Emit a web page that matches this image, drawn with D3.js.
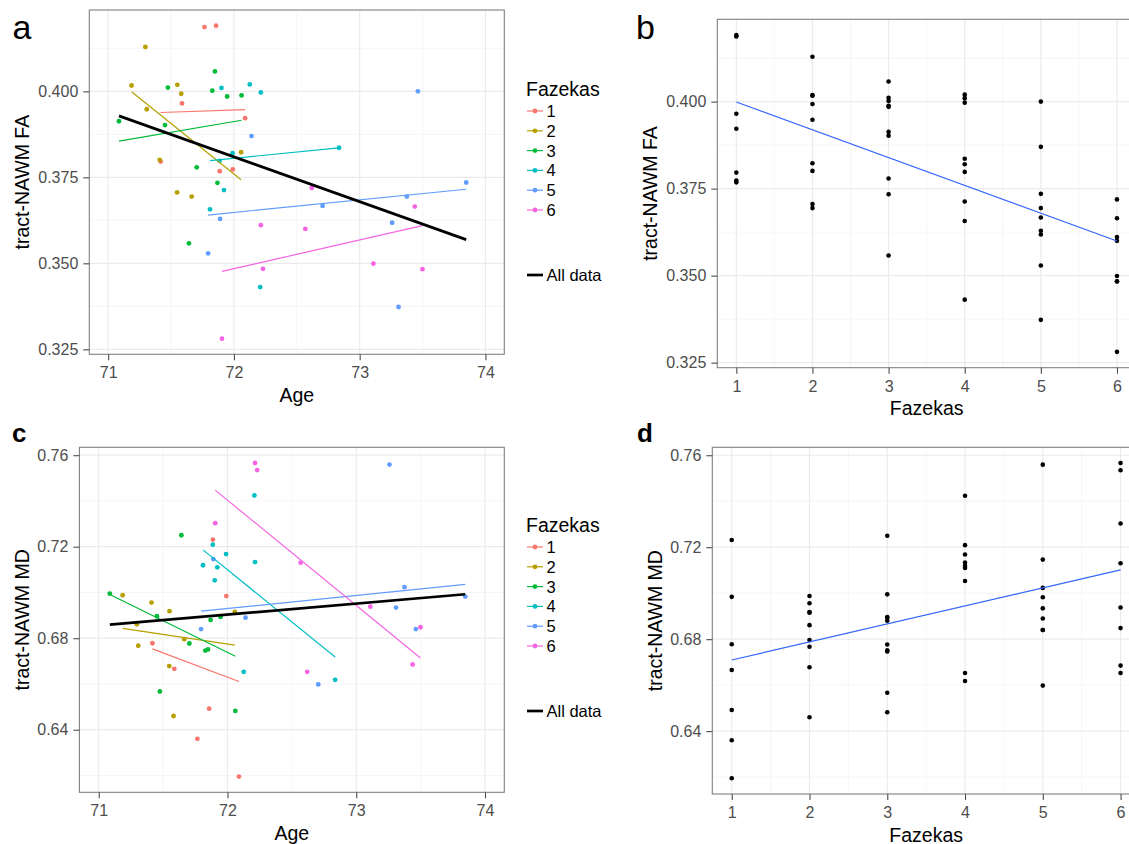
<!DOCTYPE html>
<html>
<head>
<meta charset="utf-8">
<script src="https://d3js.org/d3.v7.min.js"></script>
<style>
	body { margin: 0; background: #fff; }
	svg { display: block; font-family: 'Liberation Sans', Arial, Helvetica, sans-serif; }
</style>
</head>
<body>
<script>
var fazekasLevels = [1, 2, 3, 4, 5, 6];
var fazekasColors = ['#F8766D', '#B79F00', '#00BA38', '#00BFC4', '#619CFF', '#F564E3'];

// one entry per subject, same order in every array
var fazekas = [
	1, 1, 1, 1, 1, 1, 1,
	2, 2, 2, 2, 2, 2, 2, 2, 2,
	3, 3, 3, 3, 3, 3, 3, 3, 3, 3,
	4, 4, 4, 4, 4, 4, 4, 4, 4,
	5, 5, 5, 5, 5, 5, 5, 5, 5,
	6, 6, 6, 6, 6, 6, 6, 6
];
var age = [
	71.766, 71.858, 71.587, 72.089, 71.417, 71.887, 71.991,
	71.186, 71.296, 71.307, 71.410, 71.550, 71.581, 71.548, 71.664, 72.057,
	71.086, 71.452, 71.475, 71.642, 71.704, 71.828, 71.849, 71.869, 71.946, 72.061,
	71.810, 71.886, 71.901, 71.921, 71.989, 72.126, 72.209, 72.214, 72.836,
	71.795, 71.890, 72.140, 72.705, 73.258, 73.309, 73.375, 73.463, 73.847,
	71.905, 72.214, 72.231, 72.568, 72.619, 73.109, 73.438, 73.499
];
var fa = [
	0.4187, 0.4191, 0.3965, 0.3922, 0.3796, 0.3768, 0.3773,
	0.4017, 0.4129, 0.3948, 0.3801, 0.4019, 0.3993, 0.3706, 0.3694, 0.3823,
	0.3913, 0.3902, 0.4011, 0.3558, 0.3779, 0.4002, 0.4058, 0.3734, 0.3985, 0.3988,
	0.3657, 0.3798, 0.4010, 0.3713, 0.3820, 0.4020, 0.3431, 0.3997, 0.3836,
	0.3529, 0.3629, 0.3870, 0.3667, 0.3618, 0.3373, 0.3694, 0.4000, 0.3735,
	0.3281, 0.3611, 0.3484, 0.3600, 0.3719, 0.3499, 0.3665, 0.3483
];
var md = [
	0.6360, 0.6492, 0.6666, 0.6195, 0.6778, 0.7231, 0.6984,
	0.6988, 0.6861, 0.6767, 0.6956, 0.6918, 0.6460, 0.6678, 0.6796, 0.6915,
	0.6995, 0.6896, 0.6567, 0.7250, 0.6777, 0.6746, 0.6751, 0.6880, 0.6893, 0.6482,
	0.7119, 0.7209, 0.7053, 0.7110, 0.7168, 0.6653, 0.7424, 0.7133, 0.6618,
	0.6840, 0.7146, 0.6890, 0.6598, 0.7559, 0.6934, 0.7023, 0.6840, 0.6982,
	0.7303, 0.7566, 0.7535, 0.7130, 0.6653, 0.6938, 0.6685, 0.6848
];

var ageTicks = [71, 72, 73, 74];
var faTicks = [0.325, 0.350, 0.375, 0.400];
var mdTicks = [0.64, 0.68, 0.72, 0.76];

var subjects = age.map(function(d, i) {
	return { age: d, fazekas: fazekas[i], fa: fa[i], md: md[i] };
});

var width = 1129, height = 844;

var svg = d3.select('body')
	.append('svg')
	.attr('width', width)
	.attr('height', height);

svg.append('rect')
	.attr('width', width)
	.attr('height', height)
	.attr('fill', '#fff');

var color = d3.scaleOrdinal().domain(fazekasLevels).range(fazekasColors);

function expand(ext) {
	var r = ext[1] - ext[0];
	return [ext[0] - r * 0.05, ext[1] + r * 0.05];
}

function minorTicks(ticks, domain) {
	var step = ticks[1] - ticks[0];
	var out = [];
	for (var i = -1; i < ticks.length; i++) {
		var v = ticks[0] + step * (i + 0.5);
		if (v > domain[0] && v < domain[1]) out.push(v);
	}
	return out;
}

function fit(pts, xk, yk) {
	var mx = d3.mean(pts, function(d) { return d[xk]; });
	var my = d3.mean(pts, function(d) { return d[yk]; });
	var sxy = d3.sum(pts, function(d) { return (d[xk] - mx) * (d[yk] - my); });
	var sxx = d3.sum(pts, function(d) { return (d[xk] - mx) * (d[xk] - mx); });
	var slope = sxy / sxx;
	var ext = d3.extent(pts, function(d) { return d[xk]; });
	return ext.map(function(v) { return [v, my + slope * (v - mx)]; });
}

function drawPanel(p) {
	var x = d3.scaleLinear().domain(p.xDomain).range([p.left, p.right]);
	var y = d3.scaleLinear().domain(p.yDomain).range([p.bottom, p.top]);
	var g = svg.append('g');

	// grid
	g.selectAll('.vminor')
		.data(minorTicks(p.xTicks, p.xDomain))
		.enter()
		.append('line')
		.attr('x1', function(d) { return x(d); })
		.attr('x2', function(d) { return x(d); })
		.attr('y1', p.top)
		.attr('y2', p.bottom)
		.attr('stroke', '#f2f2f2')
		.attr('stroke-width', 0.7);
	g.selectAll('.hminor')
		.data(minorTicks(p.yTicks, p.yDomain))
		.enter()
		.append('line')
		.attr('x1', p.left)
		.attr('x2', p.right)
		.attr('y1', function(d) { return y(d); })
		.attr('y2', function(d) { return y(d); })
		.attr('stroke', '#f2f2f2')
		.attr('stroke-width', 0.7);
	g.selectAll('.vmajor')
		.data(p.xTicks)
		.enter()
		.append('line')
		.attr('x1', function(d) { return x(d); })
		.attr('x2', function(d) { return x(d); })
		.attr('y1', p.top)
		.attr('y2', p.bottom)
		.attr('stroke', '#ebebeb')
		.attr('stroke-width', 1.2);
	g.selectAll('.hmajor')
		.data(p.yTicks)
		.enter()
		.append('line')
		.attr('x1', p.left)
		.attr('x2', p.right)
		.attr('y1', function(d) { return y(d); })
		.attr('y2', function(d) { return y(d); })
		.attr('stroke', '#ebebeb')
		.attr('stroke-width', 1.2);

	// points
	g.selectAll('circle')
		.data(subjects)
		.enter()
		.append('circle')
		.attr('cx', function(d) { return x(d[p.xKey]); })
		.attr('cy', function(d) { return y(d[p.yKey]); })
		.attr('r', p.grouped ? 2.4 : 2.3)
		.attr('fill', function(d) { return p.grouped ? color(d.fazekas) : '#000'; });

	var line = d3.line()
		.x(function(d) { return x(d[0]); })
		.y(function(d) { return y(d[1]); });

	if (p.grouped) {
		fazekasLevels.forEach(function(f) {
			var pts = subjects.filter(function(d) { return d.fazekas === f; });
			g.append('path')
				.attr('d', line(fit(pts, p.xKey, p.yKey)))
				.attr('fill', 'none')
				.attr('stroke', color(f))
				.attr('stroke-width', 1.2);
		});
		g.append('path')
			.attr('d', line(fit(subjects, p.xKey, p.yKey)))
			.attr('fill', 'none')
			.attr('stroke', '#000')
			.attr('stroke-width', 2.7);
	} else {
		g.append('path')
			.attr('d', line(fit(subjects, p.xKey, p.yKey)))
			.attr('fill', 'none')
			.attr('stroke', '#3366FF')
			.attr('stroke-width', 1.2);
	}

	g.append('rect')
		.attr('x', p.left)
		.attr('y', p.top)
		.attr('width', p.right - p.left)
		.attr('height', p.bottom - p.top)
		.attr('fill', 'none')
		.attr('stroke', '#808080')
		.attr('stroke-width', 1.1);

	// axes
	var xAxis = g.append('g')
		.attr('transform', 'translate(0,' + p.bottom + ')')
		.call(d3.axisBottom(x).tickValues(p.xTicks).tickFormat(p.xFormat).tickSize(6).tickPadding(6.5));
	var yAxis = g.append('g')
		.attr('transform', 'translate(' + p.left + ',0)')
		.call(d3.axisLeft(y).tickValues(p.yTicks).tickFormat(p.yFormat).tickSize(6).tickPadding(5));
	[xAxis, yAxis].forEach(function(a) {
		a.select('.domain').remove();
		a.selectAll('line').attr('stroke', '#4d4d4d').attr('stroke-width', 1.1);
		a.selectAll('text')
			.attr('fill', '#4d4d4d')
			.style('font-size', '16px')
			.style('font-family', "'Liberation Sans', Arial, sans-serif");
	});

	g.append('text')
		.attr('x', (p.left + p.right) / 2)
		.attr('y', p.bottom + 47.5)
		.attr('text-anchor', 'middle')
		.style('font-size', '19.5px')
		.text(p.xTitle);
	g.append('text')
		.attr('transform', 'translate(' + p.yTitleX + ',' + (p.top + p.bottom) / 2 + ') rotate(-90)')
		.attr('text-anchor', 'middle')
		.style('font-size', '19.5px')
		.text(p.yTitle);

	g.append('text')
		.attr('x', p.tagX)
		.attr('y', p.tagY)
		.style('font-size', p.tagSize + 'px')
		.style('font-weight', p.tagBold ? 'bold' : 'normal')
		.text(p.tag);

	if (p.legendTop != null) drawLegend(p.legendTop);
}

function drawLegend(top) {
	var lg = svg.append('g').attr('transform', 'translate(526,' + top + ')');
	lg.append('text')
		.attr('x', 0)
		.attr('y', 0)
		.style('font-size', '19.5px')
		.text('Fazekas');
	var items = lg.selectAll('.item')
		.data(fazekasLevels)
		.enter()
		.append('g')
		.attr('transform', function(d, i) { return 'translate(0,' + (15 + i * 19.8) + ')'; });
	items.append('line')
		.attr('x1', 1)
		.attr('x2', 17)
		.attr('stroke', function(d) { return color(d); })
		.attr('stroke-width', 1.2);
	items.append('circle')
		.attr('cx', 9)
		.attr('r', 2.4)
		.attr('fill', function(d) { return color(d); });
	items.append('text')
		.attr('x', 20.5)
		.attr('dy', '0.36em')
		.style('font-size', '16.5px')
		.text(function(d) { return d; });
	var all = lg.append('g').attr('transform', 'translate(0,179)');
	all.append('line')
		.attr('x1', 1)
		.attr('x2', 17)
		.attr('stroke', '#000')
		.attr('stroke-width', 2.7);
	all.append('text')
		.attr('x', 20.5)
		.attr('dy', '0.36em')
		.style('font-size', '16.5px')
		.text('All data');
}

var ageDomain = expand(d3.extent(ageTicks));
var fazDomain = expand(d3.extent(fazekasLevels));
var faDomain = expand(d3.extent(fa));
var mdDomain = expand(d3.extent(md));

drawPanel({
	tag: 'a', tagX: 12.5, tagY: 38.5, tagSize: 34, tagBold: false,
	left: 89.3, right: 504.3, top: 10, bottom: 354.3,
	xKey: 'age', yKey: 'fa', grouped: true,
	xDomain: ageDomain, yDomain: faDomain, xTicks: ageTicks, yTicks: faTicks,
	xFormat: d3.format('d'), yFormat: d3.format('.3f'),
	xTitle: 'Age', yTitle: 'tract-NAWM FA', yTitleX: 29,
	legendTop: 96
});
drawPanel({
	tag: 'b', tagX: 636, tagY: 38.5, tagSize: 34, tagBold: false,
	left: 717.3, right: 1136, top: 19.3, bottom: 367.7,
	xKey: 'fazekas', yKey: 'fa', grouped: false,
	xDomain: fazDomain, yDomain: faDomain, xTicks: fazekasLevels, yTicks: faTicks,
	xFormat: d3.format('d'), yFormat: d3.format('.3f'),
	xTitle: 'Fazekas', yTitle: 'tract-NAWM FA', yTitleX: 657
});
drawPanel({
	tag: 'c', tagX: 12, tagY: 441.7, tagSize: 26, tagBold: true,
	left: 79.4, right: 504.3, top: 447.3, bottom: 792.3,
	xKey: 'age', yKey: 'md', grouped: true,
	xDomain: ageDomain, yDomain: mdDomain, xTicks: ageTicks, yTicks: mdTicks,
	xFormat: d3.format('d'), yFormat: d3.format('.2f'),
	xTitle: 'Age', yTitle: 'tract-NAWM MD', yTitleX: 29,
	legendTop: 532
});
drawPanel({
	tag: 'd', tagX: 637, tagY: 442, tagSize: 26, tagBold: true,
	left: 712.3, right: 1140, top: 447.3, bottom: 794,
	xKey: 'fazekas', yKey: 'md', grouped: false,
	xDomain: fazDomain, yDomain: mdDomain, xTicks: fazekasLevels, yTicks: mdTicks,
	xFormat: d3.format('d'), yFormat: d3.format('.2f'),
	xTitle: 'Fazekas', yTitle: 'tract-NAWM MD', yTitleX: 662
});
</script>
</body>
</html>
